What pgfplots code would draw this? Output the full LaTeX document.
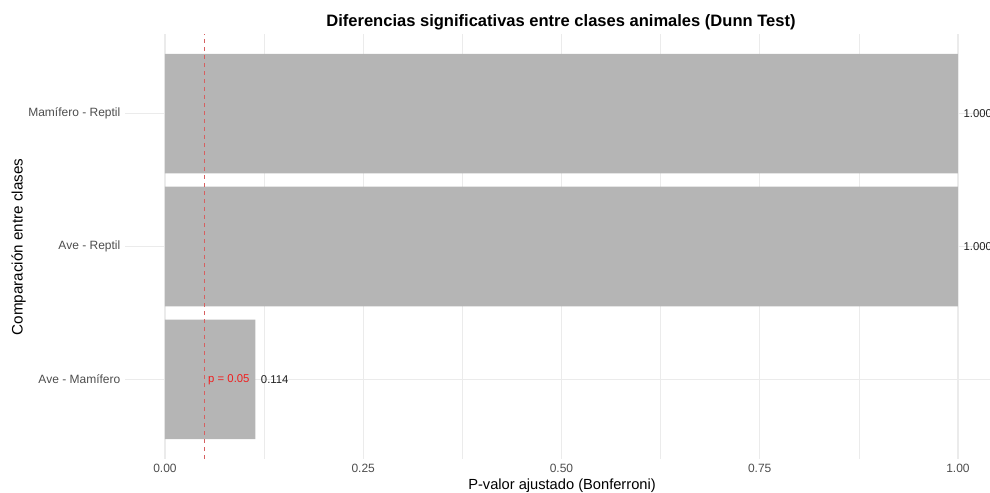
\documentclass[border=0pt]{standalone}
\usepackage{fontspec}
\setmainfont{Liberation Sans}
\usepackage{pgfplots}
\pgfplotsset{compat=1.18}
\definecolor{barfill}{RGB}{181,181,181}
\definecolor{gridc}{RGB}{235,235,235}
\definecolor{tickc}{RGB}{77,77,77}
\definecolor{refline}{RGB}{214,96,96}
\definecolor{ptext}{RGB}{240,30,30}
\begin{document}
\begin{tikzpicture}
\begin{axis}[
  at={(94.01pt,25.5pt)}, anchor=south west,
  scale only axis, width=648.5pt, height=318.75pt,
  xmin=-0.05, xmax=1.0404, ymin=-0.6, ymax=2.6,
  axis line style={draw=none},
  major tick length=0pt, minor tick length=0pt,
  tick style={draw=none},
  xtick={0,0.25,0.5,0.75,1},
  xticklabels={0.00,0.25,0.50,0.75,1.00},
  minor xtick={0.125,0.375,0.625,0.875},
  ytick={0,1,2},
  yticklabels={Ave - Mamífero, Ave - Reptil, Mamífero - Reptil},
  xmajorgrids, xminorgrids, ymajorgrids,
  major grid style={gridc, line width=0.8pt},
  minor grid style={gridc, line width=0.4pt},
  xticklabel style={font=\fontsize{9}{10}\selectfont, text=tickc, anchor=north, inner sep=0pt, yshift=-3.5pt},
  yticklabel style={font=\fontsize{9}{10}\selectfont, text=tickc, anchor=east, inner sep=0pt, xshift=-3.6pt},
  /pgf/number format/assume math mode=true,
  clip=false,
]
\addplot[xbar, bar width=0.9, fill=barfill, draw=none] coordinates {(0.114,0) (1.000,1) (1.000,2)};
\addplot[refline, line width=0.6pt, dash pattern=on 3pt off 3pt] coordinates {(0.05,-0.6) (0.05,2.6)};
\node[anchor=west, inner sep=0pt, xshift=2.5pt, text=ptext, font=\fontsize{8.5}{10}\selectfont] at (axis cs:0.05,0) {p = 0.05};
\node[anchor=west, inner sep=0pt, xshift=4pt, text=black!87, font=\fontsize{8.5}{10}\selectfont] at (axis cs:0.114,0) {0.114};
\node[anchor=west, inner sep=0pt, xshift=4pt, text=black!87, font=\fontsize{8.5}{10}\selectfont] at (axis cs:1.0,1) {1.000};
\node[anchor=west, inner sep=0pt, xshift=4pt, text=black!87, font=\fontsize{8.5}{10}\selectfont] at (axis cs:1.0,2) {1.000};
\end{axis}
\node[font=\fontsize{12.4}{15}\selectfont\bfseries] at (420.75pt,353.25pt) {Diferencias significativas entre clases animales (Dunn Test)};
\node[font=\fontsize{11}{13}\selectfont] at (421.5pt,5.25pt) {P-valor ajustado (Bonferroni)};
\node[font=\fontsize{11.4}{13}\selectfont, rotate=90] at (14pt,184.5pt) {Comparación entre clases};
\pgfresetboundingbox
\path[use as bounding box] (0,0) rectangle (742.5pt,369.75pt);
\end{tikzpicture}
\end{document}
